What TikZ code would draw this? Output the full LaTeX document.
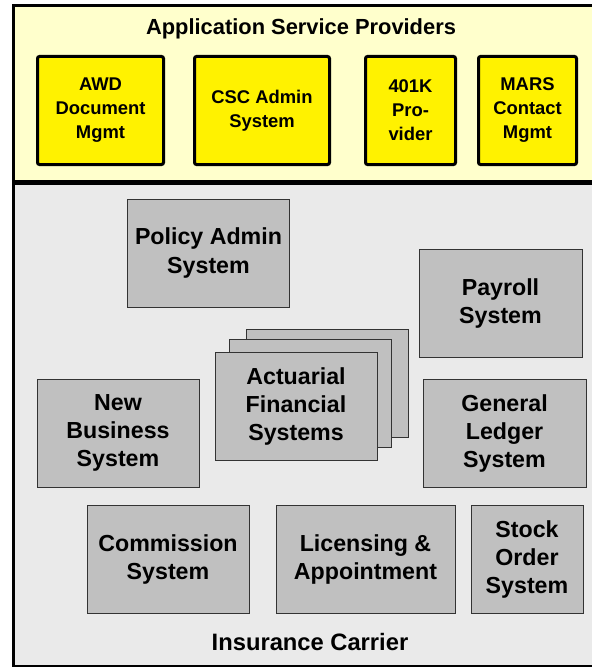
\documentclass[tikz,border=0pt]{standalone}
\usepackage{fontspec}
\setmainfont{Liberation Sans}
\usepackage{xcolor}
\usepackage{tikz}
\definecolor{aspback}{HTML}{FFFFCC}
\definecolor{carrierback}{HTML}{EAEAEA}
\definecolor{sysgray}{HTML}{C0C0C0}
\definecolor{sysline}{HTML}{333333}
\newcommand{\sysfont}{\fontsize{17.4}{21}\selectfont\bfseries}
\newcommand{\aspfont}{\fontsize{13.8}{18}\selectfont\bfseries}
\tikzstyle{frame} = [rectangle, draw=black, line width=2.25pt, inner sep=0pt, anchor=north west]
\tikzstyle{aspblock} = [rectangle, draw=black, fill=yellow, line width=2.25pt, rounded corners=1.5pt,
    align=center, font=\aspfont, inner sep=0pt, minimum height=81pt]
\tikzstyle{sysblock} = [rectangle, draw=sysline, fill=sysgray, line width=0.75pt,
    align=center, font=\sysfont, inner sep=0pt, minimum width=121.5pt, minimum height=81pt]
\tikzstyle{frametitle} = [font=\bfseries]

\begin{document}
\begin{tikzpicture}[x=0.75pt, y=-0.75pt]
    \useasboundingbox (0,0) rectangle (592,667);
    \clip (0,0) rectangle (592,667);
    \fill[white] (0,0) rectangle (592,667);

    % Outer frames
    \node [frame, fill=aspback, minimum width=452pt, minimum height=131.25pt] (asp) at (11.5,4.5) {};
    \node [frame, fill=carrierback, minimum width=452pt, minimum height=362.25pt] (carrier) at (11.5,181.5) {};
    \node [frametitle, font=\fontsize{16.4}{20}\selectfont\bfseries] (asptitle) at (301,28.5) {Application Service Providers};
    \node [frametitle, font=\fontsize{17.8}{20}\selectfont\bfseries] (carriertitle) at (310,642) {Insurance Carrier};

    % Application service providers
    \node [aspblock, minimum width=94.5pt] (awd) at (100.5,110.5) {AWD\\Document\\Mgmt};
    \node [aspblock, minimum width=101.25pt] (csc) at (262,110.5) {CSC Admin\\System};
    \node [aspblock, minimum width=67.5pt] (k401) at (410.5,110.5) {401K\\Pro-\\vider};
    \node [aspblock, minimum width=73.5pt] (mars) at (527.5,110.5) {MARS\\Contact\\Mgmt};

    % Carrier systems
    \node [sysblock] (policy) at (208.5,253) {Policy Admin\\System};
    \node [sysblock, minimum width=122.25pt] (payroll) at (500.5,303) {Payroll\\System};
    \node [sysblock] (actuarial3) at (327,383.5) {};
    \node [sysblock] (actuarial2) at (310,393) {};
    \node [sysblock] (actuarial) at (296,406) {Actuarial\\Financial\\Systems};
    \node [sysblock] (newbiz) at (118,433) {New\\Business\\System};
    \node [sysblock, minimum width=122.25pt] (ledger) at (504.5,433) {General\\Ledger\\System};
    \node [sysblock] (commission) at (168,559) {Commission\\System};
    \node [sysblock, minimum width=134.25pt] (licensing) at (365.5,559) {Licensing \&\\Appointment};
    \node [sysblock, minimum width=84pt] (stock) at (527,559) {Stock\\Order\\System};
\end{tikzpicture}
\end{document}
